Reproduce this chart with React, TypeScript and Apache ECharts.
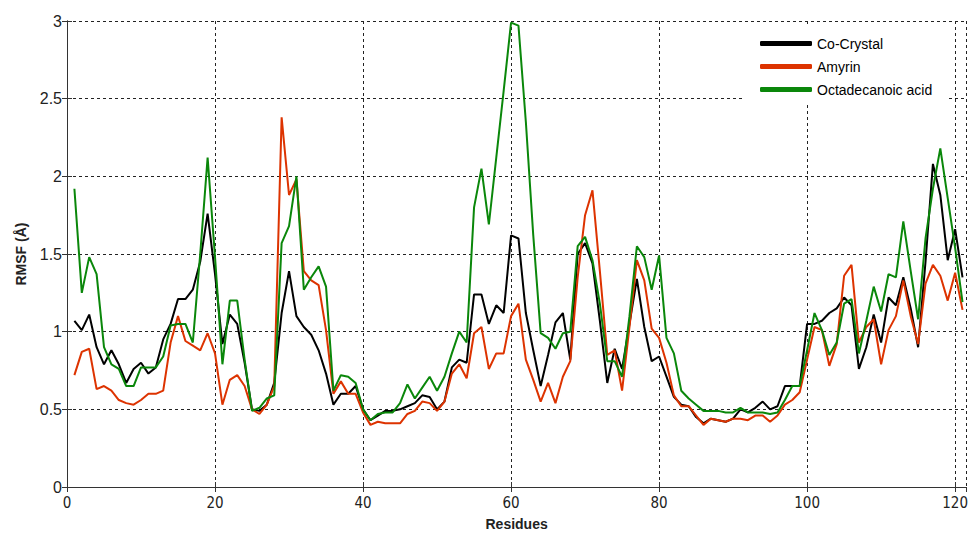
import React, { useEffect, useRef } from "react";
import * as echarts from "echarts";

const seriesNames = ["Co-Crystal", "Amyrin", "Octadecanoic acid"];
const seriesColors = ["#000000", "#dd3300", "#0a870a"];

const coCrystal = [
  1.07, 1.01, 1.11, 0.9, 0.79, 0.88, 0.79, 0.67, 0.76, 0.8,
  0.73, 0.77, 0.95, 1.05, 1.21, 1.21, 1.27, 1.45, 1.76, 1.37,
  0.92, 1.11, 1.05, 0.8, 0.5, 0.49, 0.53, 0.67, 1.12, 1.39,
  1.1, 1.03, 0.98, 0.88, 0.73, 0.53, 0.6, 0.6, 0.65, 0.5,
  0.43, 0.46, 0.49, 0.49, 0.5, 0.52, 0.54, 0.59, 0.58, 0.5,
  0.55, 0.77, 0.82, 0.8, 1.24, 1.24, 1.05, 1.17, 1.12, 1.62,
  1.6, 1.12, 0.88, 0.65, 0.85, 1.06, 1.12, 0.82, 1.5, 1.57,
  1.44, 1.07, 0.67, 0.89, 0.76, 1.05, 1.34, 1.03, 0.81, 0.84,
  0.71, 0.58, 0.53, 0.52, 0.45, 0.41, 0.44, 0.43, 0.42, 0.44,
  0.5, 0.48, 0.51, 0.55, 0.5, 0.52, 0.65, 0.65, 0.65, 1.05,
  1.05, 1.07, 1.12, 1.15, 1.22, 1.17, 0.76, 0.9, 1.11, 0.93,
  1.22, 1.17, 1.35, 1.15, 0.9, 1.45, 2.08, 1.88, 1.46, 1.66,
  1.35,
];

const amyrin = [
  0.72, 0.87, 0.89, 0.63, 0.65, 0.62, 0.56, 0.54, 0.53, 0.56,
  0.6, 0.6, 0.62, 0.93, 1.1, 0.94, 0.91, 0.88, 0.99, 0.86,
  0.53, 0.69, 0.72, 0.65, 0.5, 0.47, 0.53, 0.65, 2.38, 1.88,
  1.98, 1.39, 1.33, 1.3, 1.01, 0.6, 0.68, 0.6, 0.6, 0.48,
  0.4, 0.42, 0.41, 0.41, 0.41, 0.47, 0.49, 0.55, 0.54, 0.49,
  0.55, 0.73, 0.79, 0.7, 0.99, 1.03, 0.76, 0.86, 0.86, 1.1,
  1.18, 0.82, 0.69, 0.55, 0.67, 0.54, 0.71, 0.81, 1.35, 1.75,
  1.91, 1.39, 0.85, 0.88, 0.62, 1.03, 1.46, 1.33, 1.02, 0.96,
  0.8, 0.59, 0.52, 0.52, 0.46, 0.4, 0.44, 0.43, 0.42, 0.44,
  0.44, 0.43, 0.46, 0.46, 0.42, 0.46, 0.53, 0.56, 0.61, 0.82,
  1.03, 1.01, 0.78, 0.92, 1.36, 1.43, 0.93, 1.03, 1.08, 0.79,
  1.01, 1.1, 1.33, 1.1, 0.92, 1.31, 1.43, 1.36, 1.2, 1.38,
  1.14,
];

const octadecanoic = [
  1.92, 1.25, 1.48, 1.37, 0.9, 0.79, 0.76, 0.65, 0.65, 0.77,
  0.77, 0.77, 0.84, 1.04, 1.05, 1.05, 0.93, 1.5, 2.12, 1.48,
  0.79, 1.2, 1.2, 0.82, 0.49, 0.51, 0.57, 0.59, 1.57, 1.68,
  2.0, 1.27, 1.35, 1.42, 1.29, 0.62, 0.72, 0.71, 0.67, 0.5,
  0.43, 0.47, 0.48, 0.48, 0.54, 0.66, 0.57, 0.64, 0.71, 0.62,
  0.71, 0.86, 1.0, 0.93, 1.8, 2.05, 1.69, 2.12, 2.55, 2.99,
  2.97, 2.35, 1.62, 0.99, 0.96, 0.89, 0.99, 1.0, 1.55, 1.61,
  1.46, 1.18, 0.81, 0.81, 0.71, 1.1, 1.55, 1.48, 1.27, 1.49,
  0.96, 0.86, 0.62, 0.57, 0.53, 0.49, 0.49, 0.49, 0.48, 0.48,
  0.51, 0.48, 0.48, 0.48, 0.47, 0.48, 0.56, 0.65, 0.65, 0.88,
  1.12, 1.01, 0.85, 0.93, 1.18, 1.21, 0.86, 1.07, 1.29, 1.13,
  1.37, 1.35, 1.71, 1.39, 1.08, 1.6, 1.92, 2.18, 1.86, 1.54,
  1.19,
];

const xTicks = [0, 20, 40, 60, 80, 100, 120];
const yTicks = [0, 0.5, 1, 1.5, 2, 2.5, 3];
const X_MAX = 121.5;

const FONT = 'Arial, "Liberation Sans", Helvetica, sans-serif';
const NARROW = '"Liberation Sans Narrow", "Arial Narrow", "DejaVu Sans Condensed", Arial, "Liberation Sans", sans-serif';

export default function App() {
  const ref = useRef<HTMLDivElement>(null);

  useEffect(() => {
    if (!ref.current) return;
    const chart = echarts.init(ref.current, null, { renderer: "svg" });
    const allSeries = [coCrystal, amyrin, octadecanoic];

    const gridLine = { show: true, lineStyle: { color: "#222", type: [3, 3], width: 1 } };
    const axisLine = { show: true, lineStyle: { color: "#333", width: 1 } };
    const tick = { show: true, inside: true, length: 5, lineStyle: { color: "#333" } };
    const isTick = (v: number) => xTicks.includes(v);

    const option = {
      animation: false,
      backgroundColor: "#ffffff",
      grid: { left: 67, top: 21, right: 2, bottom: 44, containLabel: false },
      legend: {
        show: true,
        orient: "vertical",
        left: 745,
        top: 26,
        padding: [10, 14, 8, 15],
        backgroundColor: "#ffffff",
        itemWidth: 52,
        itemHeight: 5,
        itemGap: 8,
        icon: "roundRect",
        textStyle: { fontFamily: FONT, fontSize: 14, color: "#000", lineHeight: 15 },
        data: seriesNames,
      },
      xAxis: [
        {
          type: "value",
          min: 0,
          max: X_MAX,
          interval: 20,
          name: "Residues",
          nameLocation: "middle",
          nameGap: 30,
          nameTextStyle: { fontFamily: FONT, fontSize: 14, fontWeight: "bold", color: "#222" },
          axisLine,
          axisTick: { ...tick, interval: (_i: number, v: any) => isTick(Number(v)) },
          splitLine: {
            ...gridLine,
            interval: (_i: number, v: any) => isTick(Number(v)) && Number(v) !== 0,
          },
          axisLabel: {
            fontFamily: NARROW,
            fontSize: 15,
            color: "#222",
            margin: 8,
            showMaxLabel: false,
            formatter: (v: number) => (isTick(v) ? String(v) : ""),
          },
        },
        {
          type: "value",
          position: "top",
          min: 0,
          max: X_MAX,
          interval: 20,
          axisLine,
          axisTick: tick,
          axisLabel: { show: false },
          splitLine: { show: false },
        },
      ],
      yAxis: [
        {
          type: "value",
          min: 0,
          max: 3,
          interval: 0.5,
          name: "RMSF (Å)",
          nameLocation: "middle",
          nameGap: 39,
          nameTextStyle: { fontFamily: FONT, fontSize: 14, fontWeight: "bold", color: "#222" },
          axisLine,
          axisTick: tick,
          splitLine: gridLine,
          axisLabel: {
            fontFamily: FONT,
            fontSize: 16,
            color: "#222",
            margin: 5,
            formatter: (v: number) => (yTicks.includes(v) ? String(v) : ""),
          },
        },
        {
          type: "value",
          position: "right",
          min: 0,
          max: 3,
          interval: 0.5,
          axisLine,
          axisTick: tick,
          axisLabel: { show: false },
          splitLine: { show: false },
        },
      ],
      series: seriesNames.map((name, i) => ({
        name,
        type: "line",
        xAxisIndex: 0,
        yAxisIndex: 0,
        showSymbol: false,
        symbol: "none",
        color: seriesColors[i],
        lineStyle: { color: seriesColors[i], width: 2 },
        data: allSeries[i].map((v, j) => [j + 1, v]),
        z: 2 + i,
      })),
    };

    chart.setOption(option as any);
    return () => chart.dispose();
  }, []);

  return (
    <div
      ref={ref}
      style={{ position: "fixed", left: 0, top: 0, width: 971, height: 536 }}
    />
  );
}
